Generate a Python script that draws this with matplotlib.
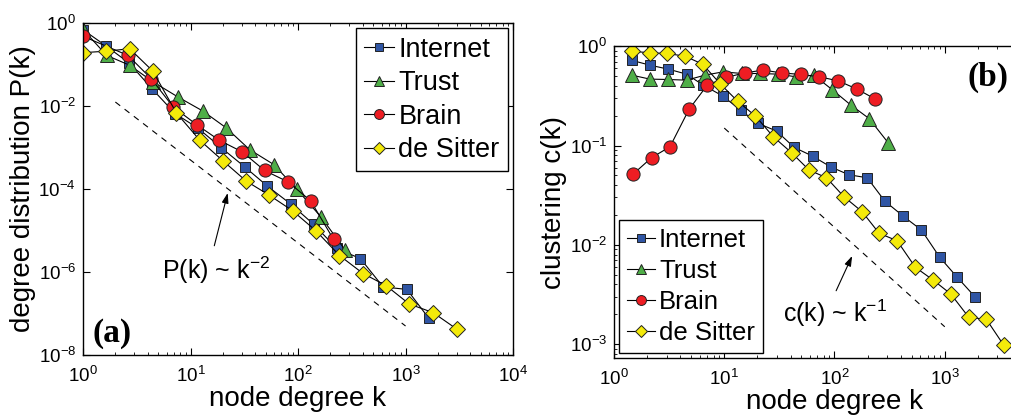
import numpy as np
import matplotlib
matplotlib.use("Agg")
import matplotlib.pyplot as plt
from matplotlib.ticker import LogLocator, NullLocator, NullFormatter

plt.rcParams['font.family'] = ['Liberation Sans', 'DejaVu Sans']
plt.rcParams['mathtext.fontset'] = 'custom'
plt.rcParams['mathtext.rm'] = 'Liberation Sans'
plt.rcParams['mathtext.it'] = 'Liberation Sans:italic'
plt.rcParams['mathtext.bf'] = 'Liberation Sans:bold'

# ---- panel (a): degree distribution P(k) ----
k_int_a = [1.0, 1.64, 2.68, 4.39, 7.18, 11.8, 19.2, 32, 52, 86, 140, 229, 381, 617, 1030, 1650]
p_int_a = [0.69, 0.28, 0.109, 0.026, 0.0066, 0.0029, 0.001, 3.4e-4, 1.17e-4, 4.3e-5,
           1.4e-5, 3.7e-6, 2.1e-6, 4.4e-7, 3.8e-7, 7.6e-8]
k_tru_a = [1.0, 1.66, 2.72, 4.5, 7.65, 13, 21.4, 35.5, 59.4, 97, 164, 274]
p_tru_a = [0.7, 0.166, 0.096, 0.038, 0.0165, 0.0076, 0.003, 8.9e-4, 3.9e-4, 1.0e-4, 2.1e-5, 3.4e-6]
k_bra_a = [1.0, 2.62, 4.3, 6.9, 11.5, 18.5, 30.4, 48.8, 81, 131, 214]
p_bra_a = [0.48, 0.166, 0.046, 0.0095, 0.0035, 0.0015, 7.8e-4, 2.8e-4, 1.48e-4, 5.2e-5, 6.1e-6]
k_des_a = [1.0, 1.64, 2.72, 4.45, 7.4, 12.2, 20.2, 33, 54, 89, 147, 243, 403, 660, 1080, 1806, 3000]
p_des_a = [0.193, 0.21, 0.24, 0.07, 0.0068, 0.0015, 4.7e-4, 1.55e-4, 7.1e-5, 3.0e-5,
           9.8e-6, 2.5e-6, 9.2e-7, 4.7e-7, 1.7e-7, 1.05e-7, 4.2e-8]
k_fit_a = [2, 1000]
p_fit_a = [0.0125, 5.0e-8]

# ---- panel (b): clustering c(k) ----
k_int_b = [1.45, 2.12, 3.11, 4.56, 6.45, 9.66, 14.1, 20.3, 29.8, 43.1, 63.2, 92, 135, 198,
           286, 419, 615, 901, 1303, 1897]
c_int_b = [0.72, 0.644, 0.587, 0.523, 0.405, 0.316, 0.227, 0.167, 0.14, 0.0957, 0.0783,
           0.0611, 0.0508, 0.0474, 0.0276, 0.0195, 0.0141, 0.0075, 0.0047, 0.00297]
k_tru_b = [1.45, 2.12, 3.11, 4.56, 6.68, 9.8, 14.4, 21.1, 30.8, 44.6, 65, 95, 141, 206, 306]
c_tru_b = [0.511, 0.466, 0.462, 0.455, 0.511, 0.552, 0.531, 0.531, 0.523, 0.492, 0.511,
           0.366, 0.255, 0.187, 0.107]
k_bra_b = [1.48, 2.19, 3.22, 4.79, 7.01, 10.4, 15.4, 22.5, 33.1, 49.2, 72.6, 108, 160, 235]
c_bra_b = [0.0512, 0.0754, 0.0972, 0.231, 0.405, 0.484, 0.539, 0.574, 0.539, 0.519, 0.492,
           0.448, 0.37, 0.293]
k_des_b = [1.45, 2.12, 3.04, 4.4, 6.37, 9.14, 13.2, 19.2, 27.8, 40.8, 58.9, 84.6, 122, 178,
           254, 370, 542, 784, 1133, 1651, 2387, 3425]
c_des_b = [0.89, 0.857, 0.844, 0.793, 0.659, 0.421, 0.28, 0.198, 0.123, 0.0846, 0.0566,
           0.0474, 0.0305, 0.0216, 0.0131, 0.011, 0.00594, 0.00443, 0.00321, 0.00187,
           0.00178, 0.00098]
k_fit_b = [10, 1000]
c_fit_b = [0.15, 0.0015]

labels = ['Internet', 'Trust', 'Brain', 'de Sitter']
styles = [dict(marker='s', mfc='#2f55a4', ms=7.5),
          dict(marker='^', mfc='#4fae48', ms=9.5),
          dict(marker='o', mfc='#ee1d23', ms=9.5),
          dict(marker='D', mfc='#f4ea0a', ms=8)]

fig = plt.figure(figsize=(10.12, 4.16), dpi=100)
axa = fig.add_axes([0.082, 0.1466, 0.425, 0.798])
axb = fig.add_axes([0.6067, 0.139, 0.4358, 0.750])


def draw_series(ax, series):
    for (k, v), lab, st in zip(series, labels, styles):
        ax.plot(k, v, color='black', lw=0.8, mec='#222222', mew=0.7, label=lab, **st)


def style_axes(ax, xmajor):
    ax.set_xscale('log')
    ax.set_yscale('log')
    ax.tick_params(which='both', direction='in', top=True, right=True, labelsize=13.5)
    ax.tick_params(which='major', length=5, width=0.8)
    ax.tick_params(which='minor', length=2.5, width=0.6)
    ax.tick_params(axis='x', which='major', pad=8)
    ax.tick_params(axis='y', which='major', pad=5)
    for s in ax.spines.values():
        s.set_linewidth(1.0)
    ax.set_xticks(xmajor)
    ax.xaxis.set_minor_locator(LogLocator(base=10, subs=np.arange(2, 10), numticks=10))
    ax.xaxis.set_minor_formatter(NullFormatter())


def add_legend(ax, loc, size):
    leg = ax.legend(loc=loc, fontsize=size, handlelength=1.1, handletextpad=0.15,
                    labelspacing=0.28, borderpad=0.3, borderaxespad=0.2, markerscale=0.75,
                    fancybox=False, framealpha=1, edgecolor='black')
    leg.get_frame().set_linewidth(1.0)


arrow = dict(arrowstyle='-|>,head_length=0.6,head_width=0.2', color='black', lw=0.8)

# panel (a)
draw_series(axa, [(k_int_a, p_int_a), (k_tru_a, p_tru_a), (k_bra_a, p_bra_a), (k_des_a, p_des_a)])
axa.plot(k_fit_a, p_fit_a, 'k--', lw=0.8, dashes=(5.5, 5))
style_axes(axa, [1, 10, 100, 1000, 10000])
axa.set_xlim(1, 1e4)
axa.set_ylim(1e-8, 1)
axa.set_yticks([1, 1e-2, 1e-4, 1e-6, 1e-8])
axa.yaxis.set_minor_locator(NullLocator())
axa.set_xlabel('node degree k', fontsize=20, labelpad=0)
axa.set_ylabel('degree distribution P(k)', fontsize=20, labelpad=2)
axa.annotate('', xy=(22.5, 9.3e-5), xytext=(16.4, 3.7e-6), arrowprops=arrow)
axa.text(0.31, 0.256, 'P(k) ~ k$^{-2}$', transform=axa.transAxes, fontsize=18,
         ha='center', va='center')
axa.text(0.067, 0.066, '(a)', transform=axa.transAxes, fontsize=24, fontweight='bold',
         family='Liberation Serif', ha='center', va='center')
add_legend(axa, 'upper right', 19.5)

# panel (b)
draw_series(axb, [(k_int_b, c_int_b), (k_tru_b, c_tru_b), (k_bra_b, c_bra_b), (k_des_b, c_des_b)])
axb.plot(k_fit_b, c_fit_b, 'k--', lw=0.8, dashes=(5.5, 5))
style_axes(axb, [1, 10, 100, 1000])
axb.set_xlim(1, 1e4)
axb.set_ylim(10 ** -3.14, 1)
axb.yaxis.set_major_locator(LogLocator(base=10, numticks=10))
axb.yaxis.set_minor_locator(LogLocator(base=10, subs=np.arange(2, 10), numticks=10))
axb.yaxis.set_minor_formatter(NullFormatter())
axb.set_xlabel('node degree k', fontsize=20, labelpad=0)
axb.set_ylabel('clustering c(k)', fontsize=20, labelpad=2)
axb.annotate('', xy=(148, 0.0082), xytext=(101, 0.00326), arrowprops=arrow)
axb.text(0.50, 0.144, 'c(k) ~ k$^{-1}$', transform=axb.transAxes, fontsize=18,
         ha='center', va='center')
axb.text(0.848, 0.90, '(b)', transform=axb.transAxes, fontsize=24, fontweight='bold',
         family='Liberation Serif', ha='center', va='center')
add_legend(axb, 'lower left', 18.5)

fig.savefig('out.png', dpi=100)
